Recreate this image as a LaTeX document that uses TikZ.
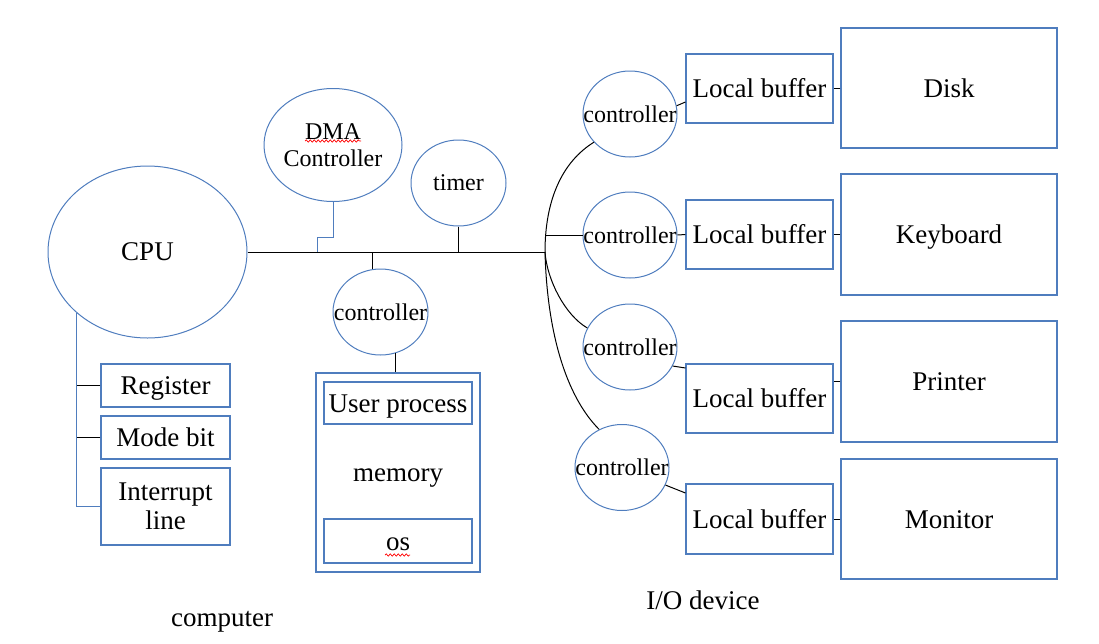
\documentclass[tikz,border=0pt]{standalone}
\usepackage{fontspec}
\setmainfont{Liberation Serif}
\usetikzlibrary{shapes.geometric,decorations.pathmorphing,calc}
\definecolor{ob}{RGB}{79,125,190}
\newcommand{\zw}[1]{\makebox[0pt]{#1}}
\begin{document}
\begin{tikzpicture}[x=1pt,y=-1pt,
 ell/.style={ellipse,draw=ob,line width=1pt,inner sep=0pt,font=\fontsize{24}{27}\selectfont},
 box/.style={rectangle,draw=ob,line width=1.1pt,inner sep=0pt,font=\fontsize{27}{29}\selectfont},
 boxt/.style={box,text height=18pt,text depth=0pt},
 conn/.style={line width=1pt,black},
 bconn/.style={line width=1pt,ob},
 lbl/.style={font=\fontsize{27}{30}\selectfont,inner sep=0pt},
 wavy/.style={red,line width=0.7pt,decorate,decoration={snake,amplitude=1.1pt,segment length=4pt}}
]
\useasboundingbox (0,0) rectangle (1099,643);

% computer side
\node[ell,minimum width=199pt,minimum height=172pt,font=\fontsize{27}{30}\selectfont] (cpu) at (147.5,252) {\zw{CPU}};
\node[ell,minimum width=138pt,minimum height=113pt,align=center] (dma) at (333,145) {\zw{DMA}\\\zw{Controller}};
\node[ell,minimum width=95pt,minimum height=86pt] (timer) at (458.5,183) {\zw{timer}};
\node[ell,minimum width=95pt,minimum height=86pt] (mc) at (380.5,312) {\zw{controller}};

\node[boxt,minimum width=129pt,minimum height=43pt] (reg) at (165.5,385.5) {Register};
\node[boxt,minimum width=129pt,minimum height=43pt] (mode) at (165.5,437.5) {Mode bit};
\node[box,minimum width=129pt,minimum height=77pt,align=center] (intr) at (165.5,506.5) {Interrupt\\line};

\node[boxt,minimum width=164pt,minimum height=199pt] (mem) at (398,472.5) {memory};
\node[boxt,minimum width=148pt,minimum height=42pt] (up) at (398,403) {\zw{User process}};
\node[boxt,minimum width=148pt,minimum height=44pt] (os) at (398,541) {os};

% I/O side
\node[ell,minimum width=94pt,minimum height=86pt] (c1) at (630,114) {\zw{controller}};
\node[ell,minimum width=94pt,minimum height=86pt] (c2) at (630,235) {\zw{controller}};
\node[ell,minimum width=94pt,minimum height=86pt] (c3) at (630,347) {\zw{controller}};
\node[ell,minimum width=94pt,minimum height=86pt] (c4) at (622,467.5) {\zw{controller}};

\node[boxt,minimum width=147pt,minimum height=69pt] (lb1) at (759.5,88.5) {Local buffer};
\node[boxt,minimum width=147pt,minimum height=69pt] (lb2) at (759.5,234.5) {Local buffer};
\node[boxt,minimum width=147pt,minimum height=69pt] (lb3) at (759.5,398.5) {Local buffer};
\node[boxt,minimum width=147pt,minimum height=70pt] (lb4) at (759.5,519) {Local buffer};

\node[boxt,minimum width=216pt,minimum height=120pt] (disk) at (949,88) {Disk};
\node[boxt,minimum width=216pt,minimum height=121pt] (kb) at (949,234.5) {Keyboard};
\node[boxt,minimum width=216pt,minimum height=121pt] (prn) at (949,381.5) {Printer};
\node[boxt,minimum width=216pt,minimum height=120pt] (mon) at (949,519) {Monitor};

\node[lbl,anchor=base] (comp) at (222,626) {computer};
\node[lbl,anchor=base] (io) at (703,609) {I/O device};

% coordinates
\coordinate (J) at (545,252);
\coordinate (dstep) at (317,237);
\coordinate (bdma) at (317,252);
\coordinate (bmc) at (372,252);

% bus
\draw[conn] (cpu.east) -- (J);
\draw[bconn] (dma.south) |- (dstep) -- (bdma);
\draw[conn] (timer.south) -- (timer.south |- J);
\draw[conn] (bmc) -- (bmc |- mc.north);
\draw[conn] (mc.-70) -- (mc.-70 |- mem.north);

% cpu tree
\draw[bconn] (cpu.-139) |- (intr.west);
\draw[conn] (reg.west) -- (reg.west -| cpu.-139);
\draw[conn] (mode.west) -- (mode.west -| cpu.-139);

% I/O curves
\draw[conn] (c1.218) .. controls (562,162) and (545,200) .. (J);
\draw[conn] (c2.west) -- (c2.west -| J);
\draw[conn] (J) .. controls (547,280) and (565,315) .. (c3.156);
\draw[conn] (J) .. controls (547,330) and (565,395) .. (c4.121);

% controller to buffer
\draw[conn] (c1.10) -- ($(lb1.west)+(0,13.5)$);
\draw[conn] (c2.east) -- (lb2.west);
\draw[conn] (c3.-24) -- ($(lb3.west)+(0,-30.5)$);
\draw[conn] (c4.-22) -- ($(lb4.west)+(0,-26)$);

% buffer to device
\draw[conn] (disk.west) -- (disk.west -| lb1.east);
\draw[conn] (kb.west) -- (kb.west -| lb2.east);
\draw[conn] (prn.west) -- (prn.west -| lb3.east);
\draw[conn] (mon.west) -- (mon.west -| lb4.east);

% spell-check marks
\draw[wavy] (305,141) -- (361,141);
\draw[wavy] (385,555) -- (410,555);
\end{tikzpicture}
\end{document}
